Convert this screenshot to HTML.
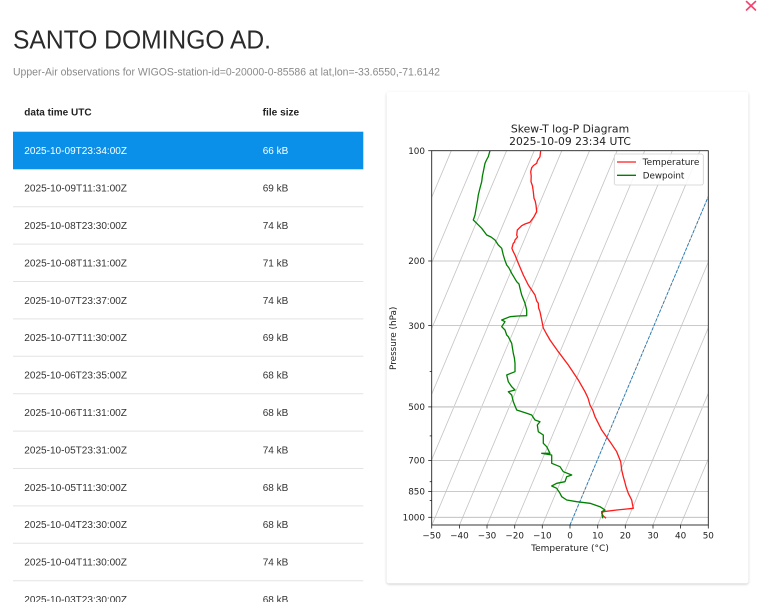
<!DOCTYPE html>
<html><head><meta charset="utf-8"><style>
html,body{margin:0;padding:0;background:#fff;}
body{width:768px;height:602px;overflow:hidden;position:relative;}
svg{position:absolute;left:0;top:0;}
</style></head><body>
<svg width="768" height="602" viewBox="0 0 768 602" xmlns="http://www.w3.org/2000/svg">
<defs>
<filter id="sh" x="-5%" y="-5%" width="110%" height="110%">
<feDropShadow dx="0" dy="1" stdDeviation="1.2" flood-color="#000" flood-opacity="0.22"/>
</filter>
<clipPath id="ax"><rect x="431.7" y="150.7" width="276.6" height="374.3"/></clipPath>
</defs>
<rect width="768" height="602" fill="#fff"/>

<!-- close X -->
<g stroke="#f5426c" stroke-width="1.6" stroke-linecap="round">
<line x1="746.5" y1="1.5" x2="755.5" y2="10"/><line x1="755.5" y1="1.5" x2="746.5" y2="10"/>
</g>

<!-- Title -->
<text x="13" y="48.3" font-family="Liberation Sans, Arial, sans-serif" font-size="26" fill="#2a2a2a" textLength="258" lengthAdjust="spacingAndGlyphs">SANTO DOMINGO AD.</text>
<text x="13" y="75.3" font-family="Liberation Sans, Arial, sans-serif" font-size="10.6" fill="#8a8a8a" textLength="427" lengthAdjust="spacingAndGlyphs">Upper-Air observations for WIGOS-station-id=0-20000-0-85586 at lat,lon=-33.6550,-71.6142</text>

<!-- Table -->
<g font-family="Liberation Sans, Arial, sans-serif" font-size="10" fill="#333">
<text x="24.3" y="115.3" font-weight="bold" fill="#222" textLength="67.3" lengthAdjust="spacingAndGlyphs">data time UTC</text>
<text x="262.7" y="115.3" font-weight="bold" fill="#222" textLength="36.5" lengthAdjust="spacingAndGlyphs">file size</text>
<rect x="13" y="131.7" width="350.3" height="37.6" fill="#0b90e9"/>
<g fill="#fff">
<text x="24.3" y="154.2" textLength="102.7" lengthAdjust="spacingAndGlyphs">2025-10-09T23:34:00Z</text>
<text x="262.7" y="154.2">66 kB</text>
</g>
<g stroke="#e3e3e3" stroke-width="1">
<line x1="13" x2="363.3" y1="206.7" y2="206.7"/>
<line x1="13" x2="363.3" y1="244.1" y2="244.1"/>
<line x1="13" x2="363.3" y1="281.5" y2="281.5"/>
<line x1="13" x2="363.3" y1="318.9" y2="318.9"/>
<line x1="13" x2="363.3" y1="356.3" y2="356.3"/>
<line x1="13" x2="363.3" y1="393.7" y2="393.7"/>
<line x1="13" x2="363.3" y1="431.1" y2="431.1"/>
<line x1="13" x2="363.3" y1="468.5" y2="468.5"/>
<line x1="13" x2="363.3" y1="505.9" y2="505.9"/>
<line x1="13" x2="363.3" y1="543.3" y2="543.3"/>
<line x1="13" x2="363.3" y1="580.7" y2="580.7"/>
</g>
<text x="24.3" y="191.6" textLength="102.7" lengthAdjust="spacingAndGlyphs">2025-10-09T11:31:00Z</text><text x="262.7" y="191.6">69 kB</text>
<text x="24.3" y="229.0" textLength="102.7" lengthAdjust="spacingAndGlyphs">2025-10-08T23:30:00Z</text><text x="262.7" y="229.0">74 kB</text>
<text x="24.3" y="266.4" textLength="102.7" lengthAdjust="spacingAndGlyphs">2025-10-08T11:31:00Z</text><text x="262.7" y="266.4">71 kB</text>
<text x="24.3" y="303.8" textLength="102.7" lengthAdjust="spacingAndGlyphs">2025-10-07T23:37:00Z</text><text x="262.7" y="303.8">74 kB</text>
<text x="24.3" y="341.2" textLength="102.7" lengthAdjust="spacingAndGlyphs">2025-10-07T11:30:00Z</text><text x="262.7" y="341.2">69 kB</text>
<text x="24.3" y="378.6" textLength="102.7" lengthAdjust="spacingAndGlyphs">2025-10-06T23:35:00Z</text><text x="262.7" y="378.6">68 kB</text>
<text x="24.3" y="416.0" textLength="102.7" lengthAdjust="spacingAndGlyphs">2025-10-06T11:31:00Z</text><text x="262.7" y="416.0">68 kB</text>
<text x="24.3" y="453.4" textLength="102.7" lengthAdjust="spacingAndGlyphs">2025-10-05T23:31:00Z</text><text x="262.7" y="453.4">74 kB</text>
<text x="24.3" y="490.8" textLength="102.7" lengthAdjust="spacingAndGlyphs">2025-10-05T11:30:00Z</text><text x="262.7" y="490.8">68 kB</text>
<text x="24.3" y="528.2" textLength="102.7" lengthAdjust="spacingAndGlyphs">2025-10-04T23:30:00Z</text><text x="262.7" y="528.2">68 kB</text>
<text x="24.3" y="565.6" textLength="102.7" lengthAdjust="spacingAndGlyphs">2025-10-04T11:30:00Z</text><text x="262.7" y="565.6">74 kB</text>
<text x="24.3" y="603.0" textLength="102.7" lengthAdjust="spacingAndGlyphs">2025-10-03T23:30:00Z</text><text x="262.7" y="603.0">68 kB</text>
</g>

<!-- Card -->
<rect x="386.7" y="91.7" width="361.6" height="491.6" rx="2.5" fill="#fff" filter="url(#sh)"/>

<!-- Chart title -->
<g font-family="DejaVu Sans, Liberation Sans, sans-serif" fill="#222" text-anchor="middle">
<text x="570" y="132.3" font-size="10.7" textLength="118.3" lengthAdjust="spacingAndGlyphs">Skew-T log-P Diagram</text>
<text x="570" y="145" font-size="10.7" textLength="121.7" lengthAdjust="spacingAndGlyphs">2025-10-09 23:34 UTC</text>
</g>

<!-- Grid -->
<g clip-path="url(#ax)">
<g stroke="#c4c4c4" stroke-width="0.8">
<line x1="293.7" y1="525" x2="451.3" y2="150.7"/>
<line x1="321.3" y1="525" x2="478.9" y2="150.7"/>
<line x1="349.0" y1="525" x2="506.6" y2="150.7"/>
<line x1="376.6" y1="525" x2="534.2" y2="150.7"/>
<line x1="404.2" y1="525" x2="561.8" y2="150.7"/>
<line x1="431.9" y1="525" x2="589.5" y2="150.7"/>
<line x1="459.5" y1="525" x2="617.1" y2="150.7"/>
<line x1="487.1" y1="525" x2="644.7" y2="150.7"/>
<line x1="514.7" y1="525" x2="672.3" y2="150.7"/>
<line x1="542.4" y1="525" x2="700.0" y2="150.7"/>
<line x1="570.0" y1="525" x2="727.6" y2="150.7"/>
<line x1="597.6" y1="525" x2="755.2" y2="150.7"/>
<line x1="625.3" y1="525" x2="782.9" y2="150.7"/>
<line x1="652.9" y1="525" x2="810.5" y2="150.7"/>
<line x1="680.5" y1="525" x2="838.1" y2="150.7"/>
<line x1="708.2" y1="525" x2="865.8" y2="150.7"/>
</g>
<g stroke="#b8b8b8" stroke-width="0.8">
<line x1="431.7" x2="708.3" y1="261.0" y2="261.0"/>
<line x1="431.7" x2="708.3" y1="325.6" y2="325.6"/>
<line x1="431.7" x2="708.3" y1="460.5" y2="460.5"/>
<line x1="431.7" x2="708.3" y1="491.4" y2="491.4"/>
<line x1="431.7" x2="708.3" y1="517.3" y2="517.3"/>
</g>
<line x1="431.7" x2="708.3" y1="406.9" y2="406.9" stroke="#d6d6d6" stroke-width="1.8"/>
<!-- 0 C isotherm -->
<line x1="570" y1="525" x2="727.6" y2="150.7" stroke="#1f77b4" stroke-width="0.9" stroke-dasharray="3.2,1.6"/>

<!-- Temperature -->
<polyline fill="none" stroke="#ff1a1a" stroke-width="1.3" stroke-linejoin="round" points="540.7,150.7 540.3,154 540,156.7 537.5,160.5 536.7,163.3 533.5,165.5 531.7,167.7 530.7,171.7 531.2,176 531,181.7 532.5,186 533.3,191.7 534,198.3 535.2,201 536,205 536.7,211.7 534,216.7 530,222.3 525,224 521.7,225.7 517.3,230 516.7,235 517.5,237 515,240 514.6,242 513.3,243.3 511.9,248.2 513.3,251.7 515,255 518.3,263.3 523.3,275 528.3,285 535,295 536.7,301 538.3,303.3 538.6,308 540,311.7 541.7,320 543.3,328 546,333 550,340 558.3,351.7 568.3,365 578.3,380 585,391.7 588,398 590,405 592.7,410 595,416.7 601.7,430 610,441.7 616.7,451.7 620.7,461.7 621.7,470 623.3,476.7 624.8,482 626,486.7 628.3,493.3 631.7,500 632.4,504 633.3,508.3 626.7,509 616.7,510 603.3,511.7 601.7,513.3 603.3,516 606,518.3"/>

<!-- Dewpoint -->
<polyline fill="none" stroke="#008000" stroke-width="1.3" stroke-linejoin="round" points="490,150.7 488.3,156.7 486.5,160 485,163.3 483.3,171.7 482.4,176 481.7,181.7 480,188 478.3,195 477.6,200 476.7,205 475,215 473.3,220 476.7,223.3 481.7,228.3 486.7,235 491,237 495,240 498.3,245 501.7,248.3 503.3,255 504.8,260 506.7,265 509,268 511.7,273.3 516.7,281.7 519,284 520,288.3 521.7,295 525,303.3 526.7,310 526.7,315.7 518,316 510,316.7 501.7,320 505,321.7 501.7,326.7 505,330 506.7,335 508.3,336.7 511.7,343.3 513.3,353.3 514.4,358 515,363.3 515,371.7 506.7,375 508.3,381.7 511.7,386.7 515,390 508.3,391.7 511.7,395 513.3,401.7 516.7,410 526.7,413.3 531.7,415 535,420 540,421.7 537.3,425 538.3,431.7 543.3,435 543.3,443.3 546.7,446.7 550,453.3 541.7,453.3 551.7,455 551.7,463.3 560,466.7 563.3,471.7 571.7,475 566.7,476.7 565,481.7 556.7,483.3 551.7,486 556.7,488.3 560,493.3 561.7,496.7 566.7,500 576.7,501.7 590,503.3 600,506.7 605,510 601.7,511.7 602.7,518.3"/>
</g>

<!-- Axes frame -->
<rect x="431.7" y="150.7" width="276.6" height="374.3" fill="none" stroke="#222" stroke-width="0.9"/>

<!-- Ticks -->
<g stroke="#222" stroke-width="0.8">
<line x1="428.2" x2="431.7" y1="150.7" y2="150.7"/>
<line x1="428.2" x2="431.7" y1="261.0" y2="261.0"/>
<line x1="428.2" x2="431.7" y1="325.6" y2="325.6"/>
<line x1="428.2" x2="431.7" y1="406.9" y2="406.9"/>
<line x1="428.2" x2="431.7" y1="460.5" y2="460.5"/>
<line x1="428.2" x2="431.7" y1="491.4" y2="491.4"/>
<line x1="428.2" x2="431.7" y1="517.3" y2="517.3"/>
<line x1="429.7" x2="431.7" y1="371.4" y2="371.4"/>
<line x1="429.7" x2="431.7" y1="435.9" y2="435.9"/>
<line x1="429.7" x2="431.7" y1="481.7" y2="481.7"/>
<line x1="429.7" x2="431.7" y1="500.5" y2="500.5"/>
<line x1="431.7" x2="431.7" y1="525" y2="528.5"/>
<line x1="459.4" x2="459.4" y1="525" y2="528.5"/>
<line x1="487.0" x2="487.0" y1="525" y2="528.5"/>
<line x1="514.7" x2="514.7" y1="525" y2="528.5"/>
<line x1="542.3" x2="542.3" y1="525" y2="528.5"/>
<line x1="570.0" x2="570.0" y1="525" y2="528.5"/>
<line x1="597.7" x2="597.7" y1="525" y2="528.5"/>
<line x1="625.3" x2="625.3" y1="525" y2="528.5"/>
<line x1="653.0" x2="653.0" y1="525" y2="528.5"/>
<line x1="680.6" x2="680.6" y1="525" y2="528.5"/>
<line x1="708.3" x2="708.3" y1="525" y2="528.5"/>
</g>

<g font-family="DejaVu Sans, Liberation Sans, sans-serif" font-size="8.8" fill="#222">
<g text-anchor="end">
<text x="425" y="153.9">100</text>
<text x="425" y="264.2">200</text>
<text x="425" y="328.8">300</text>
<text x="425" y="410.1">500</text>
<text x="425" y="463.7">700</text>
<text x="425" y="494.6">850</text>
<text x="425" y="520.5">1000</text>
</g>
<g text-anchor="middle">
<text x="431.7" y="538.6">−50</text>
<text x="459.4" y="538.6">−40</text>
<text x="487.0" y="538.6">−30</text>
<text x="514.7" y="538.6">−20</text>
<text x="542.3" y="538.6">−10</text>
<text x="570.0" y="538.6">0</text>
<text x="597.7" y="538.6">10</text>
<text x="625.3" y="538.6">20</text>
<text x="653.0" y="538.6">30</text>
<text x="680.6" y="538.6">40</text>
<text x="708.3" y="538.6">50</text>
<text x="570" y="551" textLength="77.7" lengthAdjust="spacingAndGlyphs">Temperature (°C)</text>
<text x="0" y="0" transform="translate(396.2,338.3) rotate(-90)" textLength="63.3" lengthAdjust="spacingAndGlyphs">Pressure (hPa)</text>
</g>
</g>

<!-- Legend -->
<rect x="614.3" y="154" width="89" height="31" rx="2" fill="#fff" fill-opacity="0.85" stroke="#d0d0d0" stroke-width="0.8"/>
<line x1="617" x2="636" y1="162" y2="162" stroke="#ff1a1a" stroke-width="1.3"/>
<line x1="617" x2="636" y1="175.3" y2="175.3" stroke="#008000" stroke-width="1.3"/>
<g font-family="DejaVu Sans, Liberation Sans, sans-serif" font-size="8.8" fill="#222">
<text x="642.7" y="165.2" textLength="56.7" lengthAdjust="spacingAndGlyphs">Temperature</text>
<text x="642.7" y="178.5" textLength="41.7" lengthAdjust="spacingAndGlyphs">Dewpoint</text>
</g>
</svg>
</body></html>
